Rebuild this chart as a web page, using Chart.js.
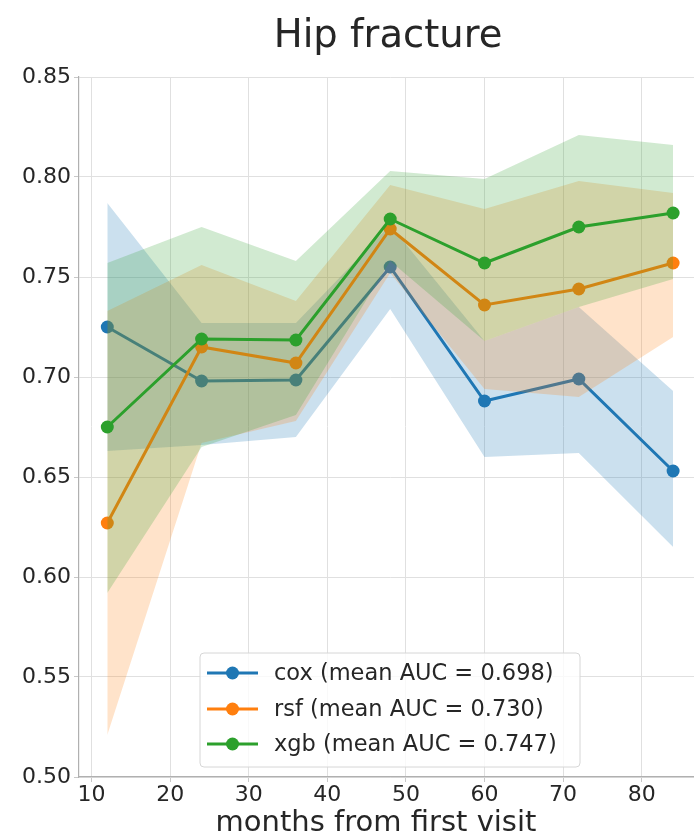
<!DOCTYPE html>
<html>
<head>
<meta charset="utf-8">
<script src="https://cdn.jsdelivr.net/npm/chart.js@4/dist/chart.umd.min.js"></script>
<style>
  html, body { margin: 0; padding: 0; background: #fff; overflow: hidden; width: 694px; height: 837px; }
  canvas { display: block; }
</style>
</head>
<body>
<canvas id="c" width="720" height="837" style="width:720px;height:837px"></canvas>
<script>
// ---- data ----
const chartTitle = "Hip fracture";
const xAxisLabel = "months from first visit";
const months = [12, 24, 36, 48, 60, 72, 84];
const seriesNames = ["cox (mean AUC = 0.698)", "rsf (mean AUC = 0.730)", "xgb (mean AUC = 0.747)"];

const coxAUC   = [0.725, 0.698, 0.6985, 0.755, 0.688, 0.699, 0.653];
const coxUpper = [0.787, 0.727, 0.727, 0.776, 0.718, 0.735, 0.693];
const coxLower = [0.663, 0.666, 0.670, 0.734, 0.660, 0.662, 0.615];

const rsfAUC   = [0.627, 0.715, 0.707, 0.774, 0.736, 0.744, 0.757];
const rsfUpper = [0.733, 0.756, 0.738, 0.796, 0.784, 0.798, 0.792];
const rsfLower = [0.521, 0.667, 0.678, 0.752, 0.694, 0.690, 0.720];

const xgbAUC   = [0.675, 0.719, 0.7185, 0.779, 0.757, 0.775, 0.782];
const xgbUpper = [0.757, 0.775, 0.758, 0.803, 0.799, 0.821, 0.816];
const xgbLower = [0.592, 0.665, 0.681, 0.758, 0.718, 0.735, 0.749];

const xTicks = [10, 20, 30, 40, 50, 60, 70, 80];
const yTicks = [0.50, 0.55, 0.60, 0.65, 0.70, 0.75, 0.80, 0.85];

const colors = ["#1f77b4", "#ff7f0e", "#2ca02c"];
const fills  = ["rgba(31,119,180,0.23)", "rgba(255,127,14,0.22)", "rgba(44,160,44,0.22)"];

const pts = arr => arr.map((v, i) => ({ x: months[i], y: v }));

function bandPair(upper, lower, k, order) {
  return [
    { label: "_upper" + k, data: pts(upper), showLine: true, borderWidth: 0, borderColor: "rgba(0,0,0,0)",
      backgroundColor: fills[k], pointRadius: 0, pointHoverRadius: 0, fill: "+1", order: order, tension: 0 },
    { label: "_lower" + k, data: pts(lower), showLine: true, borderWidth: 0, borderColor: "rgba(0,0,0,0)",
      backgroundColor: "rgba(0,0,0,0)", pointRadius: 0, pointHoverRadius: 0, fill: false, order: order, tension: 0 }
  ];
}
function lineSet(vals, k, order) {
  return { label: seriesNames[k], data: pts(vals), showLine: true, borderColor: colors[k], backgroundColor: colors[k],
    borderWidth: 3, pointRadius: 6.5, pointBorderWidth: 0, pointBackgroundColor: colors[k], fill: false, order: order, tension: 0 };
}

const datasets = [
  ...bandPair(coxUpper, coxLower, 0, 7), lineSet(coxAUC, 0, 6),
  ...bandPair(rsfUpper, rsfLower, 1, 5), lineSet(rsfAUC, 1, 4),
  ...bandPair(xgbUpper, xgbLower, 2, 3), lineSet(xgbAUC, 2, 2)
];

const FONT = "'DejaVu Sans', sans-serif";
const TXT = "#262626";

const textPlugin = {
  id: "mplTexts",
  afterDraw(chart) {
    const ctx = chart.ctx;
    ctx.save();
    ctx.fillStyle = TXT;
    ctx.textAlign = "center";
    ctx.textBaseline = "alphabetic";
    ctx.font = "38.5px " + FONT;
    ctx.fillText(chartTitle, 388, 47);
    ctx.font = "29px " + FONT;
    ctx.fillText(xAxisLabel, 376, 831);
    ctx.restore();
  }
};

const legendPlugin = {
  id: "mplLegend",
  afterDraw(chart) {
    const ctx = chart.ctx;
    const bx = 200, by = 653, bw = 380, bh = 114;
    ctx.save();
    ctx.beginPath();
    if (ctx.roundRect) ctx.roundRect(bx, by, bw, bh, 4); else ctx.rect(bx, by, bw, bh);
    ctx.fillStyle = "rgba(255,255,255,0.8)";
    ctx.fill();
    ctx.strokeStyle = "#d6d6d6";
    ctx.lineWidth = 1;
    ctx.stroke();
    const rows = [673, 709, 744];
    ctx.font = "22.5px " + FONT;
    ctx.textBaseline = "middle";
    ctx.textAlign = "left";
    for (let k = 0; k < 3; k++) {
      const y = rows[k];
      ctx.strokeStyle = colors[k];
      ctx.lineWidth = 3;
      ctx.beginPath(); ctx.moveTo(207, y); ctx.lineTo(258, y); ctx.stroke();
      ctx.fillStyle = colors[k];
      ctx.beginPath(); ctx.arc(232.5, y, 6.5, 0, Math.PI * 2); ctx.fill();
      ctx.fillStyle = TXT;
      ctx.fillText(seriesNames[k], 274, y + 1);
    }
    ctx.restore();
  }
};

new Chart(document.getElementById("c"), {
  type: "scatter",
  data: { datasets },
  options: {
    responsive: false,
    animation: false,
    devicePixelRatio: 1,
    layout: { padding: { left: 0, right: 18.6, top: 77, bottom: 0 } },
    plugins: {
      legend: { display: false },
      title: { display: false },
      tooltip: { enabled: false },
      filler: { propagate: false }
    },
    scales: {
      x: {
        type: "linear", min: 8.4, max: 87.6,
        afterFit: s => { s.height = 60; },
        afterBuildTicks: s => { s.ticks = xTicks.map(v => ({ value: v })); },
        ticks: { color: TXT, font: { family: FONT, size: 22 }, padding: 0, maxRotation: 0, autoSkip: false, includeBounds: false },
        grid: { color: "#e0e0e0", lineWidth: 1, tickLength: 5, tickColor: "#c8c8c8" },
        border: { color: "#b0b0b0", width: 1.2 },
        title: { display: false }
      },
      y: {
        type: "linear", min: 0.5, max: 0.85,
        afterFit: s => { s.width = 79; },
        afterBuildTicks: s => { s.ticks = yTicks.map(v => ({ value: v })); },
        ticks: { color: TXT, font: { family: FONT, size: 22 }, padding: 3, callback: v => Number(v).toFixed(2), autoSkip: false, includeBounds: false },
        grid: { color: "#e0e0e0", lineWidth: 1, tickLength: 5, tickColor: "#c8c8c8" },
        border: { color: "#b0b0b0", width: 1.2 }
      }
    }
  },
  plugins: [textPlugin, legendPlugin]
});
</script>
</body>
</html>
